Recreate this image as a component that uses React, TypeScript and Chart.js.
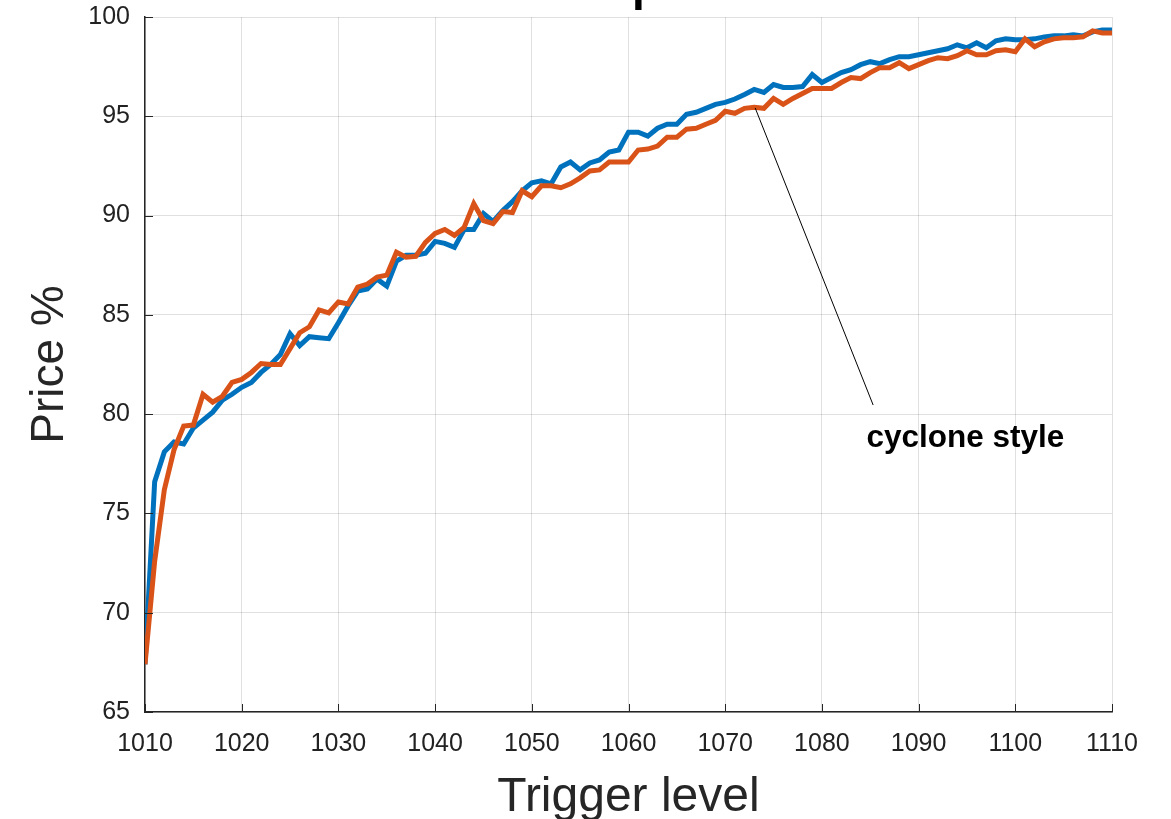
import React, { useEffect, useRef } from "react";
import { Chart, registerables } from "chart.js";

Chart.register(...registerables);

const triggerLevels = [
  1010, 1011, 1012, 1013, 1014, 1015, 1016, 1017, 1018, 1019,
  1020, 1021, 1022, 1023, 1024, 1025, 1026, 1027, 1028, 1029,
  1030, 1031, 1032, 1033, 1034, 1035, 1036, 1037, 1038, 1039,
  1040, 1041, 1042, 1043, 1044, 1045, 1046, 1047, 1048, 1049,
  1050, 1051, 1052, 1053, 1054, 1055, 1056, 1057, 1058, 1059,
  1060, 1061, 1062, 1063, 1064, 1065, 1066, 1067, 1068, 1069,
  1070, 1071, 1072, 1073, 1074, 1075, 1076, 1077, 1078, 1079,
  1080, 1081, 1082, 1083, 1084, 1085, 1086, 1087, 1088, 1089,
  1090, 1091, 1092, 1093, 1094, 1095, 1096, 1097, 1098, 1099,
  1100, 1101, 1102, 1103, 1104, 1105, 1106, 1107, 1108, 1109,
  1110,
];

const bluePrices = [
  67.4, 76.6, 78.1, 78.6, 78.5, 79.3, 79.7, 80.1, 80.7, 81.0,
  81.35, 81.6, 82.1, 82.5, 83.0, 84.05, 83.45, 83.9, 83.85, 83.8,
  84.6, 85.45, 86.2, 86.3, 86.8, 86.45, 87.7, 88.0, 88.0, 88.1,
  88.7, 88.6, 88.4, 89.3, 89.3, 90.1, 89.7, 90.25, 90.7, 91.25,
  91.65, 91.75, 91.6, 92.45, 92.7, 92.3, 92.65, 92.8, 93.2, 93.3,
  94.2, 94.2, 94.0, 94.4, 94.6, 94.6, 95.1, 95.2, 95.4, 95.6,
  95.7, 95.87, 96.1, 96.35, 96.2, 96.6, 96.45, 96.45, 96.5, 97.1,
  96.7, 96.95, 97.2, 97.35, 97.6, 97.75, 97.65, 97.85, 98.0, 98.0,
  98.1, 98.2, 98.3, 98.4, 98.6, 98.45, 98.7, 98.45, 98.8, 98.9,
  98.85, 98.85, 98.9, 99.0, 99.05, 99.05, 99.1, 99.05, 99.25, 99.35,
  99.35,
];

const orangePrices = [
  67.4, 72.6, 76.2, 78.2, 79.4, 79.45, 81.0, 80.6, 80.9, 81.6,
  81.75, 82.1, 82.55, 82.5, 82.5, 83.3, 84.1, 84.4, 85.25, 85.1,
  85.65, 85.55, 86.4, 86.55, 86.9, 87.0, 88.15, 87.9, 87.95, 88.65,
  89.1, 89.3, 89.0, 89.4, 90.6, 89.75, 89.6, 90.2, 90.15, 91.25,
  90.95, 91.5, 91.5, 91.4, 91.6, 91.9, 92.25, 92.3, 92.7, 92.7,
  92.7, 93.3, 93.35, 93.5, 93.95, 93.95, 94.35, 94.4, 94.6, 94.8,
  95.25, 95.15, 95.4, 95.45, 95.4, 95.9, 95.6, 95.9, 96.15, 96.4,
  96.4, 96.4, 96.7, 96.95, 96.9, 97.2, 97.45, 97.45, 97.7, 97.4,
  97.6, 97.8, 97.95, 97.9, 98.05, 98.3, 98.1, 98.1, 98.3, 98.35,
  98.25, 98.9, 98.5, 98.75, 98.9, 98.95, 98.95, 99.0, 99.3, 99.2,
  99.2,
];

const titleText = "Comparison";
const xAxisTitle = "Trigger level";
const yAxisTitle = "Price %";
const annotationText = "cyclone style";
// annotation anchor points in data coordinates
const annotationFrom = { x: 1073.1, y: 95.42 };
const annotationTo = { x: 1085.3, y: 80.46 };
const annotationLabelAt = { x: 1084.6, y: 78.35 };

const FONT = "'Liberation Sans', Arial, Helvetica, sans-serif";
const AXIS_COLOR = "#262626";

const decorPlugin = {
  id: "decor",
  afterDraw(chart: any) {
    const { ctx, chartArea, scales } = chart;
    const xs = scales.x;
    const ys = scales.y;
    ctx.save();
    // inward tick marks
    ctx.strokeStyle = AXIS_COLOR;
    ctx.lineWidth = 1;
    const tl = 8;
    xs.ticks.forEach((t: any) => {
      const px = Math.round(xs.getPixelForValue(t.value)) + 0.5;
      ctx.beginPath();
      ctx.moveTo(px, chartArea.bottom);
      ctx.lineTo(px, chartArea.bottom - tl);
      ctx.stroke();
    });
    ys.ticks.forEach((t: any) => {
      const py = Math.round(ys.getPixelForValue(t.value)) + 0.5;
      ctx.beginPath();
      ctx.moveTo(chartArea.left, py);
      ctx.lineTo(chartArea.left + tl, py);
      ctx.stroke();
    });

    // axis titles
    ctx.fillStyle = AXIS_COLOR;
    ctx.textAlign = "center";
    ctx.textBaseline = "alphabetic";
    ctx.font = `48px ${FONT}`;
    ctx.fillText(xAxisTitle, (chartArea.left + chartArea.right) / 2, 811);
    ctx.save();
    ctx.translate(63, (chartArea.top + chartArea.bottom) / 2);
    ctx.rotate(-Math.PI / 2);
    ctx.font = `46px ${FONT}`;
    ctx.fillText(yAxisTitle, 0, 0);
    ctx.restore();

    // title (mostly above the visible area)
    ctx.fillStyle = "#000";
    ctx.font = `bold 46px ${FONT}`;
    ctx.textAlign = "left";
    const pre = ctx.measureText("Com").width;
    const pw = ctx.measureText("p").width;
    ctx.fillText(titleText, 646 - pre - pw / 2, 0);

    // annotation
    const x1 = xs.getPixelForValue(annotationFrom.x);
    const y1 = ys.getPixelForValue(annotationFrom.y);
    const x2 = xs.getPixelForValue(annotationTo.x);
    const y2 = ys.getPixelForValue(annotationTo.y);
    ctx.strokeStyle = "#000";
    ctx.lineWidth = 1;
    ctx.beginPath();
    ctx.moveTo(x1, y1);
    ctx.lineTo(x2, y2);
    ctx.stroke();
    ctx.font = `bold 31.5px ${FONT}`;
    ctx.fillStyle = "#000";
    ctx.textAlign = "left";
    ctx.fillText(
      annotationText,
      xs.getPixelForValue(annotationLabelAt.x),
      ys.getPixelForValue(annotationLabelAt.y)
    );
    ctx.restore();
  },
};

export default function App() {
  const ref = useRef<HTMLCanvasElement | null>(null);
  useEffect(() => {
    if (!ref.current) return;
    const chart = new Chart(ref.current, {
      type: "line",
      data: {
        datasets: [
          {
            label: "cyclone style",
            data: triggerLevels.map((x, i) => ({ x, y: orangePrices[i] })),
            borderColor: "#D95319",
            borderWidth: 5,
            pointRadius: 0,
            fill: false,
            tension: 0,
            order: 0,
          },
          {
            label: "standard",
            data: triggerLevels.map((x, i) => ({ x, y: bluePrices[i] })),
            borderColor: "#0072BD",
            borderWidth: 5,
            pointRadius: 0,
            fill: false,
            tension: 0,
            order: 1,
          },
        ],
      },
      options: {
        responsive: false,
        maintainAspectRatio: false,
        animation: false,
        layout: { padding: { top: 17, right: 59, left: 0, bottom: 0 } },
        plugins: {
          legend: { display: false },
          tooltip: { enabled: false },
          title: { display: false },
        },
        scales: {
          x: {
            type: "linear",
            min: 1010,
            max: 1110,
            ticks: {
              stepSize: 10,
              padding: 17,
              color: "#222",
              font: { family: FONT, size: 25 },
              callback: (v: any) => String(v),
            },
            grid: { color: "rgba(0,0,0,0.12)", drawTicks: false, lineWidth: 1 },
            border: { display: true, color: AXIS_COLOR, width: 1.5 },
            afterFit: (s: any) => {
              s.height = 107;
              s.paddingLeft = 0;
              s.paddingRight = 0;
            },
          },
          y: {
            type: "linear",
            min: 65,
            max: 100,
            ticks: {
              stepSize: 5,
              padding: 15,
              color: "#222",
              font: { family: FONT, size: 25 },
            },
            grid: { color: "rgba(0,0,0,0.12)", drawTicks: false, lineWidth: 1 },
            border: { display: true, color: AXIS_COLOR, width: 1.5 },
            afterFit: (s: any) => {
              s.width = 145;
              s.paddingTop = 0;
              s.paddingBottom = 0;
            },
          },
        },
      },
      plugins: [decorPlugin],
    });
    return () => chart.destroy();
  }, []);
  return (
    <div style={{ position: "absolute", left: 0, top: 0, width: 1171, height: 819, background: "#fff" }}>
      <canvas ref={ref} width={1171} height={819} style={{ display: "block" }} />
    </div>
  );
}
